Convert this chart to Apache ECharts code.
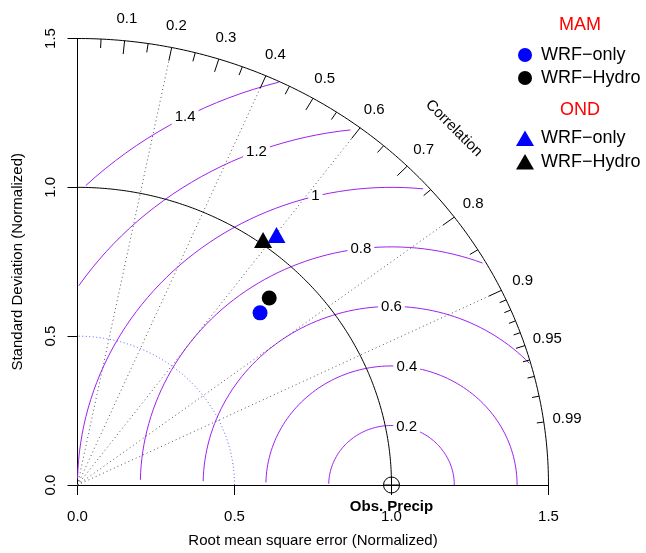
<!DOCTYPE html>
<html>
<head>
<meta charset="utf-8">
<script src="https://cdn.jsdelivr.net/npm/echarts@6/dist/echarts.min.js"></script>
<style>
  html, body { margin: 0; padding: 0; background: #fff; }
  #chart { width: 646px; height: 553px; }
</style>
</head>
<body>
<div id="chart"></div>
<script>
// Taylor diagram: normalised precipitation, MAM and OND seasons
const seasons = ['MAM', 'OND']
const models = ['WRF−only', 'WRF−Hydro']
const modelColors = ['#0000ff', '#000000']

// standard deviation (normalised) and correlation per model
const mamSd = [0.820, 0.876]
const mamCorr = [0.709, 0.697]
const ondSd = [1.044, 1.005]
const ondCorr = [0.607, 0.588]

const axisTicks = [0, 0.5, 1.0, 1.5]
const corrLabels = [0.1, 0.2, 0.3, 0.4, 0.5, 0.6, 0.7, 0.8, 0.9, 0.95, 0.99]
const corrBigTicks = [0.1, 0.2, 0.3, 0.4, 0.5, 0.6, 0.7, 0.8, 0.9]
const corrMedTicks = [0.05, 0.15, 0.25, 0.35, 0.45, 0.55, 0.65, 0.75, 0.85, 0.95]
const corrSmallTicks = [0.91, 0.92, 0.93, 0.94, 0.96, 0.97, 0.98, 0.99]
const corrLines = [0.2, 0.4, 0.6, 0.8, 0.9]
const rmsdLevels = [0.2, 0.4, 0.6, 0.8, 1, 1.2, 1.4]
const maxSd = 1.5
const refSd = 1.0
const halfSd = 0.5

const FONT = '"Liberation Sans", Arial, Helvetica, sans-serif'
const PURPLE = '#a020f0'

const polar = (r, c) => {
  const t = Math.acos(c)
  return [r * Math.cos(t), r * Math.sin(t)]
}

function arcPoints(api, r) {
  const pts = []
  for (let a = 0; a <= 90; a += 0.5) {
    const t = a * Math.PI / 180
    pts.push(api.coord([r * Math.cos(t), r * Math.sin(t)]))
  }
  return pts
}

function renderFrame(params, api) {
  const ch = []
  // sd arcs
  ch.push({ type: 'polyline', shape: { points: arcPoints(api, halfSd) },
    style: { stroke: '#5a5aff', fill: null, lineWidth: 1, lineDash: [1, 2.5] } })
  // radial dotted correlation lines
  corrLines.forEach(c => {
    const a = api.coord([0, 0]), b = api.coord(polar(maxSd * 0.97, c))
    ch.push({ type: 'line', shape: { x1: a[0], y1: a[1], x2: b[0], y2: b[1] },
      style: { stroke: '#555', lineWidth: 1, lineDash: [1, 3] } })
  })
  ch.push({ type: 'polyline', shape: { points: arcPoints(api, refSd) },
    style: { stroke: '#000', fill: null, lineWidth: 1 } })
  ch.push({ type: 'polyline', shape: { points: arcPoints(api, maxSd) },
    style: { stroke: '#000', fill: null, lineWidth: 1 } })
  // correlation ticks
  const tick = (c, f) => {
    const a = api.coord(polar(maxSd, c)), b = api.coord(polar(maxSd * f, c))
    ch.push({ type: 'line', shape: { x1: a[0], y1: a[1], x2: b[0], y2: b[1] },
      style: { stroke: '#000', lineWidth: 1 } })
  }
  corrBigTicks.forEach(c => tick(c, 0.97))
  corrMedTicks.forEach(c => tick(c, 0.98))
  corrSmallTicks.forEach(c => tick(c, 0.985))
  // correlation labels
  corrLabels.forEach(c => {
    const p = api.coord(polar(1.575, c))
    ch.push({ type: 'text', x: p[0], y: p[1],
      style: { text: String(c), fontSize: 15, fontFamily: FONT, fill: '#000',
        align: 'center', verticalAlign: 'middle' } })
  })
  const cp = api.coord(polar(1.695, Math.cos(Math.PI / 4)))
  ch.push({ type: 'text', x: cp[0], y: cp[1], rotation: -Math.PI / 4,
    style: { text: 'Correlation', fontSize: 15, fontFamily: FONT, fill: '#000',
      align: 'center', verticalAlign: 'middle' } })
  return { type: 'group', children: ch }
}

function renderRmsd(params, api) {
  const g = rmsdLevels[params.dataIndex]
  const xs = [], ys = []
  for (let t = 0; t <= Math.PI; t += 0.03) {
    xs.push(refSd + g * Math.cos(t))
    ys.push(g * Math.sin(t))
  }
  let start = 0, end = xs.length - 1
  xs.forEach((x, i) => { if (x * x + ys[i] * ys[i] > maxSd * maxSd) start = i + 1 })
  const neg = xs.findIndex(x => x < 0)
  if (neg >= 0) end = neg - 1
  const pts = []
  for (let i = start; i <= end; i++) pts.push(api.coord([xs[i], ys[i]]))
  const phi = (76 + 7 * params.dataIndex) * Math.PI / 180
  const lp = api.coord([refSd + g * Math.cos(phi), g * Math.sin(phi)])
  return { type: 'group', children: [
    { type: 'polyline', shape: { points: pts }, style: { stroke: PURPLE, fill: null, lineWidth: 1 } },
    { type: 'text', x: lp[0], y: lp[1], z2: 10,
      style: { text: String(g), fontSize: 15, fontFamily: FONT, fill: '#000',
        align: 'center', verticalAlign: 'middle', backgroundColor: '#fff', padding: [1, 3] } }
  ] }
}

function renderObs(params, api) {
  const c = api.coord([refSd, 0])
  const r = 8
  return { type: 'group', children: [
    { type: 'circle', shape: { cx: c[0], cy: c[1], r }, style: { stroke: '#000', fill: null, lineWidth: 1 } },
    { type: 'line', shape: { x1: c[0], y1: c[1] - r, x2: c[0], y2: c[1] + r }, style: { stroke: '#000', lineWidth: 1 } },
    { type: 'line', shape: { x1: c[0] - r, y1: c[1], x2: c[0] + r, y2: c[1] }, style: { stroke: '#000', lineWidth: 1 } },
    { type: 'text', x: c[0], y: c[1] + 22,
      style: { text: 'Obs. Precip', fontSize: 15, fontWeight: 'bold', fontFamily: FONT, fill: '#000',
        align: 'center', verticalAlign: 'middle' } }
  ] }
}

const legendText = (text, x, y, color, size, align) => ({
  type: 'text', x, y,
  style: { text, fontSize: size, fontFamily: FONT, fill: color, align: align || 'left', verticalAlign: 'middle' }
})

const legend = [
  legendText(seasons[0], 580, 25, '#ff0000', 18, 'center'),
  { type: 'circle', shape: { cx: 525, cy: 55, r: 7 }, style: { fill: modelColors[0] } },
  legendText(models[0], 541, 55, '#000', 18),
  { type: 'circle', shape: { cx: 525, cy: 78, r: 7 }, style: { fill: modelColors[1] } },
  legendText(models[1], 541, 78, '#000', 18),
  legendText(seasons[1], 580, 110, '#ff0000', 18, 'center'),
  { type: 'polygon', shape: { points: [[525, 130.5], [534, 146], [516, 146]] }, style: { fill: modelColors[0] } },
  legendText(models[0], 541, 138, '#000', 18),
  { type: 'polygon', shape: { points: [[525, 154], [534, 169.5], [516, 169.5]] }, style: { fill: modelColors[1] } },
  legendText(models[1], 541, 162, '#000', 18)
]

const axisCommon = {
  type: 'value', min: 0, max: maxSd, interval: 0.5,
  axisLine: { show: true, onZero: false, lineStyle: { color: '#000', width: 1 } },
  axisTick: { show: true, inside: false, length: 10, lineStyle: { color: '#000' } },
  splitLine: { show: false },
  nameLocation: 'middle',
  nameTextStyle: { fontSize: 15, fontFamily: FONT, color: '#000' }
}

const chart = echarts.init(document.getElementById('chart'))
chart.setOption({
  animation: false,
  backgroundColor: '#fff',
  textStyle: { fontFamily: FONT },
  grid: { left: 77.5, right: 97.5, top: 38.5, bottom: 63 },
  xAxis: Object.assign({}, axisCommon, {
    name: 'Root mean square error (Normalized)', nameGap: 48,
    axisLabel: { fontSize: 15, color: '#000', margin: 24, showMinLabel: true, showMaxLabel: true,
      formatter: v => v.toFixed(1) }
  }),
  yAxis: Object.assign({}, axisCommon, {
    name: 'Standard Deviation (Normalized)', nameGap: 52,
    axisLabel: { fontSize: 15, color: '#000', margin: 19, rotate: 90, showMinLabel: true, showMaxLabel: true,
      formatter: v => v.toFixed(1) }
  }),
  graphic: legend,
  series: [
    { type: 'custom', name: 'rmsd', renderItem: renderRmsd, data: rmsdLevels, z: 2, silent: true },
    { type: 'custom', name: 'frame', renderItem: renderFrame, data: [0], z: 3, silent: true },
    { type: 'custom', name: 'obs', renderItem: renderObs, data: [0], z: 4, silent: true },
    {
      type: 'scatter', name: seasons[0], symbol: 'circle', symbolSize: 15, z: 5,
      data: mamSd.map((s, i) => ({ value: polar(s, mamCorr[i]), itemStyle: { color: modelColors[i], opacity: 1 } }))
    },
    {
      type: 'scatter', name: seasons[1], symbol: 'triangle', symbolSize: [18, 16], symbolOffset: [0, -3], z: 5,
      data: ondSd.map((s, i) => ({ value: polar(s, ondCorr[i]), itemStyle: { color: modelColors[i], opacity: 1 } }))
    }
  ]
})
</script>
</body>
</html>
